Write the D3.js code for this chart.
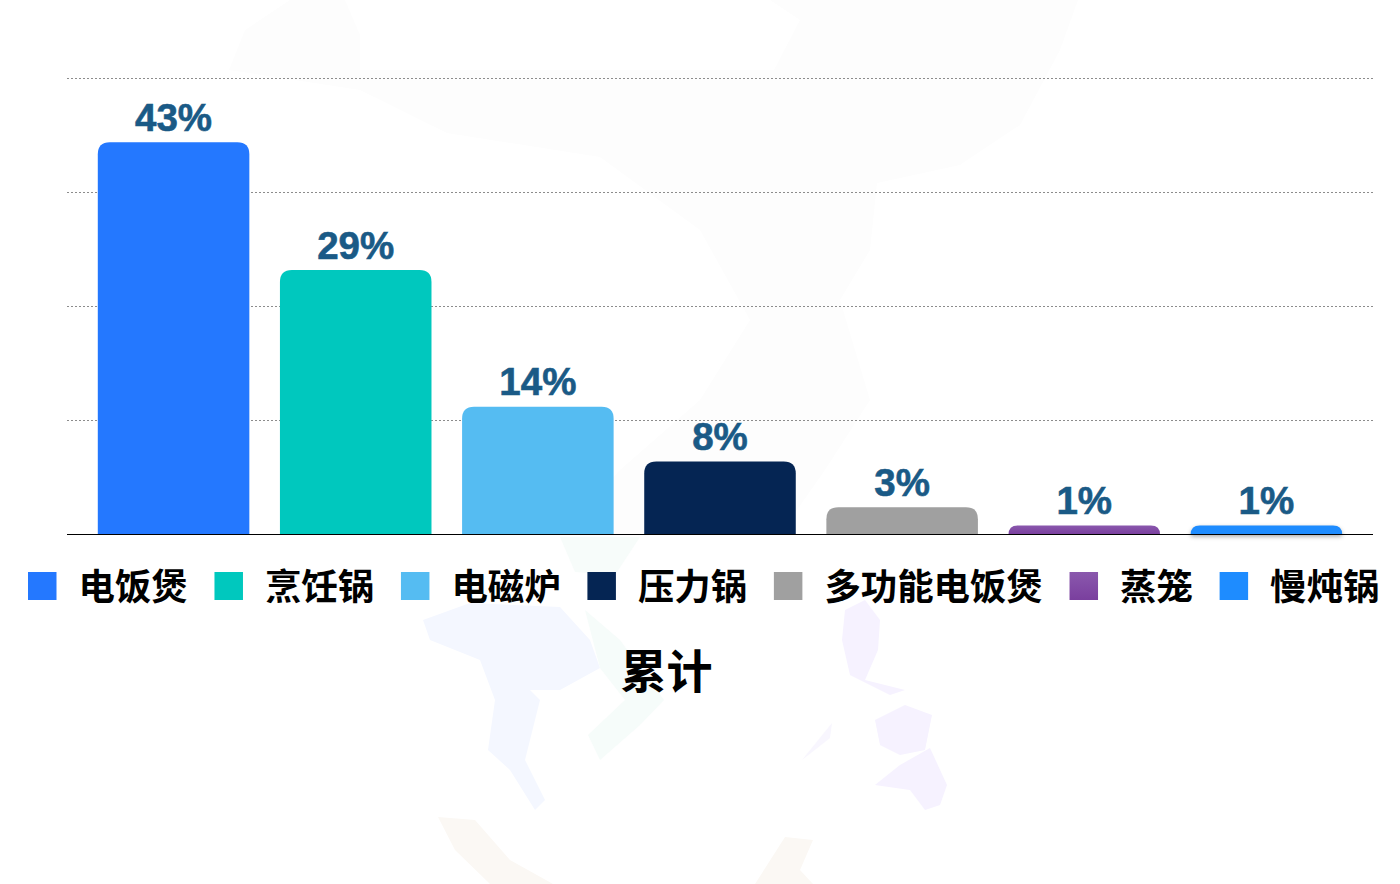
<!DOCTYPE html>
<html>
<head>
    <meta charset="utf-8">
    <title>累计</title>
    <script src="https://d3js.org/d3.v7.min.js"></script>
    <style>
        html, body { margin: 0; padding: 0; background: #fff; }
    </style>
</head>
<body>
    <div id="chart"></div>

    <script>
        // Data
        var categories = ["电饭煲", "烹饪锅", "电磁炉", "压力锅", "多功能电饭煲", "蒸笼", "慢炖锅"];
        var values = [43, 29, 14, 8, 3, 1, 1];
        var gridTicks = [0, 12.5, 25, 37.5, 50];
        var barColors = ["#2478ff", "#00c8be", "#55bcf2", "#052553", "#a0a0a0", "url(#purple)", "#1e8cff"];
        var title = "累计";

        var cjkFont = "'Noto Sans CJK SC', sans-serif";
        var width = 1400, height = 884;

        var svg = d3.select("#chart").append("svg")
            .attr("width", width)
            .attr("height", height)
            .style("display", "block");

        var defs = svg.append("defs");
        var grad = defs.append("linearGradient")
            .attr("id", "purple")
            .attr("x1", 0).attr("y1", 0).attr("x2", 0).attr("y2", 1);
        grad.append("stop").attr("offset", "0%").attr("stop-color", "#8a58ad");
        grad.append("stop").attr("offset", "100%").attr("stop-color", "#7a3f9e");

        // Faint map watermark behind the chart
        var watermark = [
            { fill: "#fdfdfd", d: "M229,70 L245,30 L290,0 L345,0 L360,35 L360,70 L774,70 L800,20 L770,0 L1078,0 L1060,50 L1020,125 L960,165 L877,183 L870,250 L840,300 L870,400 L825,470 L780,534 L560,534 L620,470 L700,400 L750,320 L700,230 L600,157 L447,133 L360,90 L229,70 Z" },
            { fill: "#f7fcfa", d: "M560,537 L640,537 L615,575 L575,572 Z" },
            { fill: "#f4f7ff", d: "M423,620 L470,603 L560,607 L590,640 L600,668 L560,690 L530,690 L540,700 L525,760 L545,800 L535,810 L510,770 L488,750 L495,700 L480,660 L430,640 Z" },
            { fill: "#f6fcfa", d: "M585,610 L620,640 L664,700 L640,725 L600,760 L588,735 L625,700 L600,668 Z" },
            { fill: "#f6f2ff", d: "M845,610 L865,600 L880,620 L878,650 L865,680 L905,690 L890,695 L850,675 L842,640 Z" },
            { fill: "#f6f2ff", d: "M875,720 L905,705 L932,715 L925,750 L900,755 L880,745 Z" },
            { fill: "#f6f2ff", d: "M875,785 L900,765 L930,748 L947,785 L940,805 L925,810 L910,790 Z" },
            { fill: "#f8f6fe", d: "M802,760 L832,723 L830,738 Z" },
            { fill: "#fbf8f4", d: "M438,817 L475,820 L510,860 L553,884 L490,884 L455,850 Z" },
            { fill: "#fbf8f4", d: "M755,884 L785,837 L813,840 L800,870 L813,884 Z" }
        ];
        svg.append("g").selectAll("path")
            .data(watermark)
            .enter()
            .append("path")
            .attr("d", function(d) { return d.d; })
            .attr("fill", function(d) { return d.fill; });

        // Scales
        var x = d3.scaleBand()
            .domain(categories)
            .range([82.5, 1357.5])
            .paddingInner(0.168)
            .paddingOuter(0.084);

        var y = d3.scaleLinear()
            .domain([0, 50])
            .range([534.5, 78.5]);

        // Dotted grid lines
        svg.append("g").selectAll("line")
            .data(gridTicks.slice(1))
            .enter()
            .append("line")
            .attr("x1", 67)
            .attr("x2", 1373)
            .attr("y1", function(d) { return y(d); })
            .attr("y2", function(d) { return y(d); })
            .attr("stroke", "#8c8c8c")
            .attr("stroke-width", 1)
            .attr("stroke-dasharray", "2,2");

        // Bars with rounded tops
        function barPath(d) {
            var x0 = x(d.name), w = x.bandwidth(), top = y(d.value), bottom = y(0);
            var r = Math.min(12, bottom - top);
            return "M" + x0 + "," + bottom +
                "V" + (top + r) +
                "Q" + x0 + "," + top + " " + (x0 + r) + "," + top +
                "H" + (x0 + w - r) +
                "Q" + (x0 + w) + "," + top + " " + (x0 + w) + "," + (top + r) +
                "V" + bottom + "Z";
        }

        var rows = categories.map(function(c, i) { return { name: c, value: values[i], color: barColors[i] }; });

        svg.append("g").selectAll("path")
            .data(rows)
            .enter()
            .append("path")
            .attr("d", barPath)
            .attr("fill", function(d) { return d.color; })
            // only the last bar has a soft shadow in the original
            .style("filter", function(d, i) { return i === rows.length - 1 ? "drop-shadow(0 2px 2px rgba(0,0,0,0.35))" : null; });

        // Value labels
        svg.append("g").selectAll("text")
            .data(rows)
            .enter()
            .append("text")
            .attr("x", function(d) { return x(d.name) + x.bandwidth() / 2; })
            .attr("y", function(d) { return y(d.value) - 11.5; })
            .attr("text-anchor", "middle")
            .attr("font-family", "'Liberation Sans', sans-serif")
            .attr("font-weight", "bold")
            .attr("font-size", 38.5)
            .attr("fill", "#1a5a86")
            .attr("stroke", "#1a5a86")
            .attr("stroke-width", 0.6)
            .text(function(d) { return d.value + "%"; });

        // Baseline
        svg.append("line")
            .attr("x1", 67)
            .attr("x2", 1373)
            .attr("y1", y(0))
            .attr("y2", y(0))
            .attr("stroke", "#000")
            .attr("stroke-width", 1);

        // Legend, laid out from the measured text widths
        var legend = svg.append("g");
        var cursor = 28;
        rows.forEach(function(d) {
            legend.append("rect")
                .attr("x", cursor)
                .attr("y", 572)
                .attr("width", 28.5)
                .attr("height", 28)
                .attr("fill", d.color);
            var label = legend.append("text")
                .attr("x", cursor + 50.5)
                .attr("y", 599.5)
                .attr("font-family", cjkFont)
                .attr("font-weight", "bold")
                .attr("font-size", 36.4)
                .attr("fill", "#000")
                .text(d.name);
            cursor += label.node().getComputedTextLength() + 77.3;
        });

        // Title under the legend
        svg.append("text")
            .attr("x", 666.5)
            .attr("y", 688)
            .attr("text-anchor", "middle")
            .attr("font-family", cjkFont)
            .attr("font-weight", "bold")
            .attr("font-size", 46)
            .attr("fill", "#000")
            .text(title);
    </script>
</body>
</html>
